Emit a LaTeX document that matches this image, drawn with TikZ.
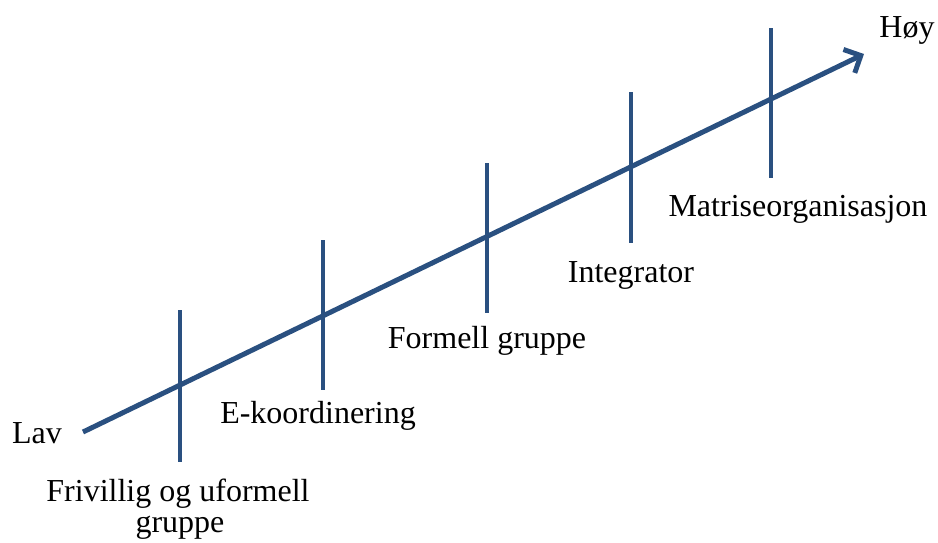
\documentclass[tikz,border=0pt]{standalone}
\usepackage{fontspec}
\setmainfont{Liberation Serif}
\usetikzlibrary{arrows.meta}
\definecolor{axisblue}{RGB}{42,80,128}
\tikzset{
  axis/.style={draw=axisblue, line width=5pt, line cap=butt},
  tick/.style={draw=axisblue, line width=4pt},
  lbl/.style={font=\fontsize{32}{37}\selectfont, anchor=base, inner sep=0pt}
}
\begin{document}
\begin{tikzpicture}[x=1pt,y=-1pt]
\useasboundingbox (0,0) rectangle (938,542);
\coordinate (start) at (83,432);
\coordinate (end) at (864,54);
\draw[axis, -{Straight Barb[length=13pt,width=26pt,line width=5pt]}] (start) -- (end);
\coordinate (t1a) at (180,310); \coordinate (t1b) at (180,462);
\coordinate (t2a) at (323,240); \coordinate (t2b) at (323,390);
\coordinate (t3a) at (487,163); \coordinate (t3b) at (487,313);
\coordinate (t4a) at (631,92);  \coordinate (t4b) at (631,243);
\coordinate (t5a) at (771,28);  \coordinate (t5b) at (771,178);
\draw[tick] (t1a) -- (t1b);
\draw[tick] (t2a) -- (t2b);
\draw[tick] (t3a) -- (t3b);
\draw[tick] (t4a) -- (t4b);
\draw[tick] (t5a) -- (t5b);
\node[lbl] (lav) at (37,443) {Lav};
\node[lbl] (hoy) at (907,37) {Høy};
\node[lbl] (friv) at (178,501) {Frivillig og uformell};
\node[lbl] (grp) at (180,532) {gruppe};
\node[lbl] (ekoord) at (318,423) {E-koordinering};
\node[lbl] (form) at (487,348) {Formell gruppe};
\node[lbl] (integ) at (631,282) {Integrator};
\node[lbl] (matr) at (798,216) {Matriseorganisasjon};
\end{tikzpicture}
\end{document}
